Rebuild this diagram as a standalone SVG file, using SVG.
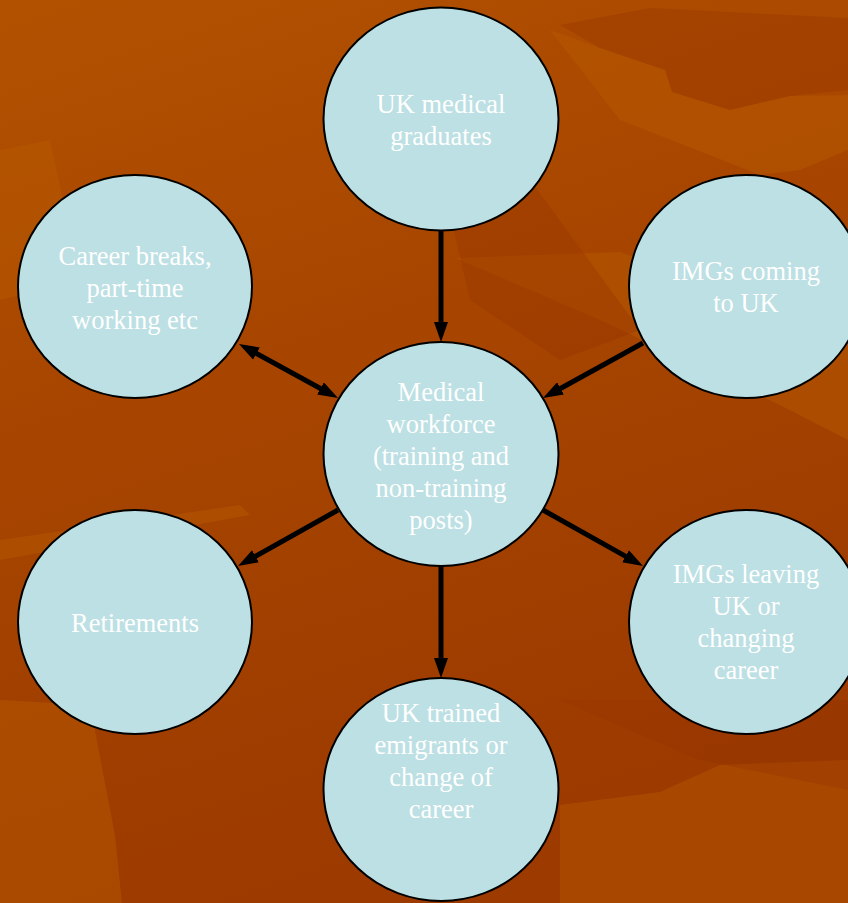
<svg xmlns="http://www.w3.org/2000/svg" width="848" height="903" viewBox="0 0 848 903">
<defs>
<linearGradient id="bg" x1="0" y1="0" x2="0.3" y2="1">
<stop offset="0" stop-color="#b25200"/>
<stop offset="0.45" stop-color="#a74500"/>
<stop offset="1" stop-color="#9c3a00"/>
</linearGradient>
<marker id="ah" viewBox="0 0 20 14" refX="12" refY="7" markerWidth="20" markerHeight="14" markerUnits="userSpaceOnUse" orient="auto-start-reverse">
<path d="M0,0 L20,7 L0,14 z" fill="#000"/>
</marker>
<style>
.node ellipse{fill:#bce0e3;stroke:#000;stroke-width:2}
.node text{font-family:"Liberation Serif","Times New Roman",serif;font-size:26.5px;fill:#fff;text-anchor:middle}
.conn line{stroke:#000;stroke-width:5}
.lt{fill:#b85a00;opacity:0.45}
.dk{fill:#953400;opacity:0.35}
</style>
</defs>
<g id="background">
<rect width="848" height="903" fill="url(#bg)"/>
<polygon class="dk" points="560,25 650,8 848,18 848,90 790,96 730,110 672,92 665,70 600,48"/>
<polygon class="lt" points="455,258 620,252 848,330 848,440 780,405 600,320"/>
<polygon class="lt" points="550,30 600,48 665,70 672,92 730,110 790,96 848,95 848,150 800,170 760,175 620,120"/>
<polygon class="dk" points="440,170 530,180 640,330 560,360 470,300"/>
<polygon class="lt" points="560,805 660,792 720,765 848,760 848,903 560,903"/>
<polygon class="dk" points="560,700 848,700 848,790 700,760"/>
<polygon class="lt" points="0,700 90,705 115,835 122,903 0,903"/>
<polygon class="lt" points="0,540 240,505 250,515 0,560"/>
<polygon class="lt" points="0,150 50,140 80,280 0,300"/>
</g>
<g id="connectors" class="conn">
<line x1="441" y1="231" x2="441" y2="334" marker-end="url(#ah)"/>
<line x1="246" y1="347.8" x2="331" y2="394.2" marker-start="url(#ah)" marker-end="url(#ah)"/>
<line x1="643" y1="343" x2="550" y2="394.2" marker-end="url(#ah)"/>
<line x1="338" y1="510" x2="245" y2="562.1" marker-end="url(#ah)"/>
<line x1="543" y1="510" x2="636" y2="562.1" marker-end="url(#ah)"/>
<line x1="441" y1="566" x2="441" y2="670" marker-end="url(#ah)"/>
</g>
<g id="node-uk-graduates" class="node">
<ellipse cx="441" cy="119" rx="117.5" ry="111.5"/>
<text x="441" y="113">UK medical</text>
<text x="441" y="145">graduates</text>
</g>
<g id="node-career-breaks" class="node">
<ellipse cx="135" cy="286.5" rx="117" ry="111.5"/>
<text x="135" y="265">Career breaks,</text>
<text x="135" y="297">part-time</text>
<text x="135" y="329">working etc</text>
</g>
<g id="node-imgs-coming" class="node">
<ellipse cx="746" cy="286.5" rx="117" ry="111.5"/>
<text x="746" y="280">IMGs coming</text>
<text x="746" y="312">to UK</text>
</g>
<g id="node-workforce" class="node">
<ellipse cx="441" cy="454" rx="117.5" ry="112"/>
<text x="441" y="401">Medical</text>
<text x="441" y="433">workforce</text>
<text x="441" y="465">(training and</text>
<text x="441" y="497">non-training</text>
<text x="441" y="529">posts)</text>
</g>
<g id="node-retirements" class="node">
<ellipse cx="135" cy="622" rx="117" ry="112"/>
<text x="135" y="632">Retirements</text>
</g>
<g id="node-imgs-leaving" class="node">
<ellipse cx="746" cy="622" rx="117" ry="112"/>
<text x="746" y="583">IMGs leaving</text>
<text x="746" y="615">UK or</text>
<text x="746" y="647">changing</text>
<text x="746" y="679">career</text>
</g>
<g id="node-uk-emigrants" class="node">
<ellipse cx="441" cy="789.5" rx="117.5" ry="111.5"/>
<text x="441" y="722">UK trained</text>
<text x="441" y="754">emigrants or</text>
<text x="441" y="786">change of</text>
<text x="441" y="818">career</text>
</g>
</svg>
